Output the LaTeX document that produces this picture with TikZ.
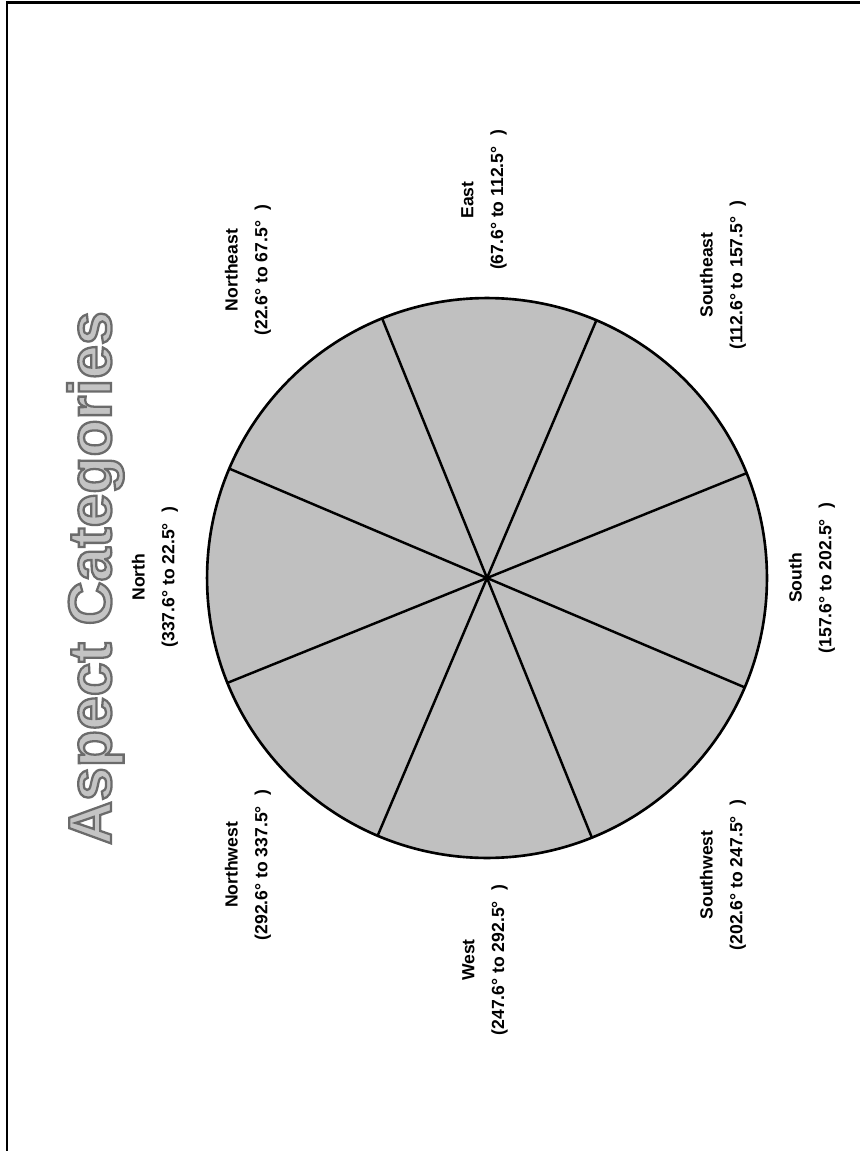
\documentclass[tikz,border=0pt]{standalone}
\usepackage{fontspec}
\setmainfont{Liberation Sans}
\definecolor{sectorgray}{RGB}{192,192,192}
\definecolor{titlefill}{RGB}{196,196,196}
\tikzset{
  wheel/.style={
    circle,
    draw=black,
    fill=sectorgray,
    line width=1.5pt,
    minimum size=11.2cm,
    inner sep=0pt,
    outer sep=0pt
  },
  divider/.style={line width=1.4pt,line cap=round},
  frameline/.style={line width=1.7pt},
  compasslabel/.style={
    rotate=90,
    align=center,
    inner sep=0pt,
    font=\fontsize{10}{17}\selectfont\bfseries
  },
  titletext/.style={
    rotate=90,
    anchor=base,
    inner sep=0pt,
    font=\fontsize{34.6}{40}\selectfont\bfseries
  }
}
% outlined lettering: fill grey, stroke darker grey
\newcommand{\outlined}[1]{%
  {\color{titlefill}\special{pdf:literal direct 0.42 0.42 0.42 RG 2 Tr 1.3 w}#1\special{pdf:literal direct 0 Tr}}}

\begin{document}
\begin{tikzpicture}[x=0.02cm,y=-0.02cm]
  \useasboundingbox (0,0) rectangle (860,1151);
  \draw[frameline] (7,1151) -- (7,3) -- (860,3);

  \node[titletext] (title) at (111,578) {\outlined{Aspect Categories}};

  \node[wheel] (wheel) at (487,578) {};
  \foreach \a in {22.5,67.5,112.5,157.5,202.5,247.5,292.5,337.5}
    \draw[divider] (wheel.center) -- (wheel.\a);

  \node[compasslabel] (north) at (155,577) {North\\(337.6° to 22.5°\hspace{0.6em})};
  \node[compasslabel] (northeast) at (248,270) {Northeast\\(22.6° to 67.5°\hspace{0.6em})};
  \node[compasslabel] (east) at (484,200) {East\\(67.6° to 112.5°\hspace{0.6em})};
  \node[compasslabel] (southeast) at (723,275) {Southeast\\(112.6° to 157.5°\hspace{0.6em})};
  \node[compasslabel] (south) at (812,578) {South\\(157.6° to 202.5°\hspace{0.6em})};
  \node[compasslabel] (southwest) at (723,875) {Southwest\\(202.6° to 247.5°\hspace{0.6em})};
  \node[compasslabel] (west) at (485,960) {West\\(247.6° to 292.5°\hspace{0.6em})};
  \node[compasslabel] (northwest) at (248,865) {Northwest\\(292.6° to 337.5°\hspace{0.6em})};
\end{tikzpicture}
\end{document}
